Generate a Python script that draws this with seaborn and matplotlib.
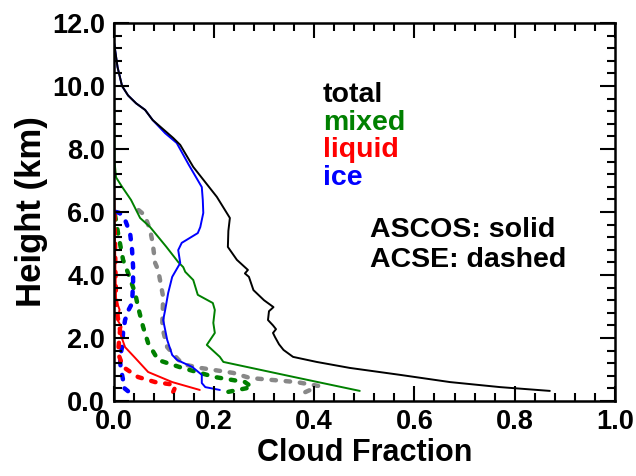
import numpy as np
import seaborn as sns
import matplotlib
matplotlib.use("Agg")
import matplotlib.pyplot as plt
from matplotlib.ticker import MultipleLocator, FormatStrFormatter

# ASCOS (solid) profiles: height (km) and cloud fraction
ascos_total_h = [11.5, 10.6, 10.0, 9.7, 9.45, 9.24, 8.92, 8.35, 8.13, 7.43, 6.48, 5.81, 5.4, 4.89,
                 4.48, 4.16, 4.05, 3.94, 3.52, 3.2, 2.98, 2.85, 2.57, 2.4, 2.28, 2.16, 2.03, 1.8,
                 1.62, 1.40, 1.24, 1.05, 0.83, 0.60, 0.44, 0.32]
ascos_total_cf = [0.0, 0.008, 0.017, 0.029, 0.045, 0.063, 0.078, 0.119, 0.133, 0.159, 0.206, 0.232,
                  0.229, 0.228, 0.246, 0.268, 0.262, 0.270, 0.279, 0.300, 0.319, 0.310, 0.308, 0.318,
                  0.324, 0.318, 0.322, 0.330, 0.339, 0.358, 0.405, 0.471, 0.571, 0.671, 0.771, 0.870]

ascos_ice_h = [11.5, 10.6, 10.0, 9.7, 9.45, 9.24, 8.92, 8.5, 8.19, 7.5, 6.79, 6.38, 5.97, 5.52, 5.33,
               5.02, 4.79, 4.38, 3.94, 3.43, 2.89, 2.57, 1.94, 1.46, 1.30, 1.08, 0.83, 0.57, 0.44, 0.35]
ascos_ice_cf = [0.0, 0.008, 0.017, 0.029, 0.045, 0.063, 0.078, 0.103, 0.126, 0.150, 0.176, 0.178,
                0.179, 0.173, 0.168, 0.136, 0.129, 0.133, 0.117, 0.109, 0.103, 0.099, 0.107, 0.117,
                0.127, 0.157, 0.176, 0.176, 0.183, 0.212]

ascos_mixed_h = [11.3, 10.0, 8.83, 7.6, 7.1, 6.8, 6.38, 5.81, 5.52, 4.9, 4.41, 4.25, 4.1, 3.84, 3.37,
                 3.11, 2.89, 2.48, 2.16, 1.78, 1.40, 1.24, 0.76, 0.32]
ascos_mixed_cf = [0.0, 0.001, 0.0015, 0.002, 0.005, 0.017, 0.035, 0.053, 0.073, 0.105, 0.129, 0.139,
                  0.143, 0.159, 0.168, 0.198, 0.202, 0.199, 0.202, 0.186, 0.212, 0.219, 0.360, 0.491]

ascos_liquid_h = [8.1, 7.0, 6.0, 5.0, 4.0, 3.21, 2.9, 2.57, 2.35, 2.16, 1.71, 1.37, 0.92, 0.60, 0.35]
ascos_liquid_cf = [0.0, 0.001, 0.002, 0.003, 0.004, 0.005, 0.012, 0.008, 0.016, 0.013, 0.023,
                   0.043, 0.069, 0.117, 0.172]

# ACSE (dashed) profiles
acse_total_h = [6.06, 5.9, 5.43, 5.02, 4.38, 4.16, 3.3, 2.35, 1.71, 1.30, 1.14, 1.05, 0.89, 0.73,
                0.60, 0.48, 0.35, 0.25]
acse_total_cf = [0.050, 0.062, 0.073, 0.078, 0.083, 0.089, 0.099, 0.097, 0.107, 0.130, 0.146, 0.173,
                 0.239, 0.272, 0.365, 0.408, 0.392, 0.378]

acse_mixed_h = [5.9, 5.33, 4.48, 4.06, 3.43, 2.98, 2.35, 1.84, 1.30, 1.05, 0.76, 0.60, 0.44, 0.29]
acse_mixed_cf = [0.003, 0.009, 0.019, 0.029, 0.043, 0.049, 0.059, 0.069, 0.089, 0.137, 0.202, 0.262,
                 0.276, 0.229]

acse_ice_h = [6.0, 5.97, 5.75, 5.33, 4.79, 4.25, 3.75, 3.1, 2.89, 2.57, 2.16, 1.71, 1.40, 1.08, 0.67,
              0.44, 0.27]
acse_ice_cf = [0.005, 0.012, 0.023, 0.033, 0.037, 0.039, 0.039, 0.037, 0.030, 0.023, 0.019, 0.017,
               0.013, 0.014, 0.019, 0.019, 0.032]

acse_liquid_h = [5.9, 5.0, 4.0, 3.2, 2.79, 2.25, 1.52, 1.08, 0.76, 0.60, 0.51, 0.44, 0.29]
acse_liquid_cf = [0.002, 0.003, 0.004, 0.005, 0.007, 0.013, 0.009, 0.019, 0.049, 0.083, 0.123,
                  0.123, 0.119]

legend_names = ["total", "mixed", "liquid", "ice"]
legend_colors = ["black", "#008000", "#ff0000", "#0000ff"]

sns.set_theme(style="ticks", rc={"axes.edgecolor": "black", "axes.linewidth": 1.8,
                                 "axes.labelcolor": "black", "text.color": "black",
                                 "xtick.color": "black", "ytick.color": "black",
                                 "axes.axisbelow": False})
plt.rcParams["font.family"] = ["Liberation Sans", "DejaVu Sans"]
plt.rcParams["font.weight"] = "bold"

fig = plt.figure(figsize=(6.36, 4.76), dpi=100)
ax = fig.add_axes([0.1785, 0.1576, 0.7885, 0.7941])

dashed = [(acse_total_cf, acse_total_h, "#888888"),
          (acse_mixed_cf, acse_mixed_h, "#008000"),
          (acse_ice_cf, acse_ice_h, "#0000ff"),
          (acse_liquid_cf, acse_liquid_h, "#ff0000")]
for cf, h, col in dashed:
    sns.lineplot(x=cf, y=h, sort=False, estimator=None, ax=ax, color=col, lw=3.2)
# ACSE curves: short round-capped dashes
for ln in ax.lines[:4]:
    ln.set_dashes((1.0, 2.2))
    ln.set_dash_capstyle("round")

solid = [(ascos_liquid_cf, ascos_liquid_h, "#ff0000"),
         (ascos_mixed_cf, ascos_mixed_h, "#008000"),
         (ascos_ice_cf, ascos_ice_h, "#0000ff"),
         (ascos_total_cf, ascos_total_h, "black")]
for cf, h, col in solid:
    sns.lineplot(x=cf, y=h, sort=False, estimator=None, ax=ax, color=col, lw=1.4)

ax.set_xlabel("Cloud Fraction", fontsize=22, fontweight="bold", labelpad=2)
ax.set_ylabel("Height (km)", fontsize=25, fontweight="bold", labelpad=3)

# colour key and line style notes
key_y = [9.50, 8.60, 7.76, 6.86]
for name, col, yy in zip(legend_names, legend_colors, key_y):
    ax.text(0.417, yy, name, color=col, fontsize=20.5, fontweight="bold", va="baseline")
ax.text(0.511, 5.22, "ASCOS: solid", fontsize=20.5, fontweight="bold", va="baseline")
ax.text(0.511, 4.26, "ACSE: dashed", fontsize=20.5, fontweight="bold", va="baseline")

# axes, ticks (inward, on all four sides) set last
ax.set_xlim(0, 1.0)
ax.set_ylim(0, 12.0)
ax.xaxis.set_major_locator(MultipleLocator(0.2))
ax.xaxis.set_minor_locator(MultipleLocator(0.04))
ax.yaxis.set_major_locator(MultipleLocator(2.0))
ax.yaxis.set_minor_locator(MultipleLocator(0.4))
ax.xaxis.set_major_formatter(FormatStrFormatter("%.1f"))
ax.yaxis.set_major_formatter(FormatStrFormatter("%.1f"))
ax.tick_params(which="both", direction="in", top=True, right=True, bottom=True, left=True,
               color="black")
ax.tick_params(which="major", length=11, width=1.5, labelsize=19.5, pad=6)
ax.tick_params(which="minor", length=5.5, width=1.5)
ax.xaxis.set_zorder(4)
ax.yaxis.set_zorder(4)
for axis in (ax.xaxis, ax.yaxis):
    for t in axis.get_major_ticks() + axis.get_minor_ticks():
        for tl in (t.tick1line, t.tick2line):
            tl.set_visible(True)
            tl.set_markeredgecolor("black")

fig.savefig("out.png", dpi=100)
